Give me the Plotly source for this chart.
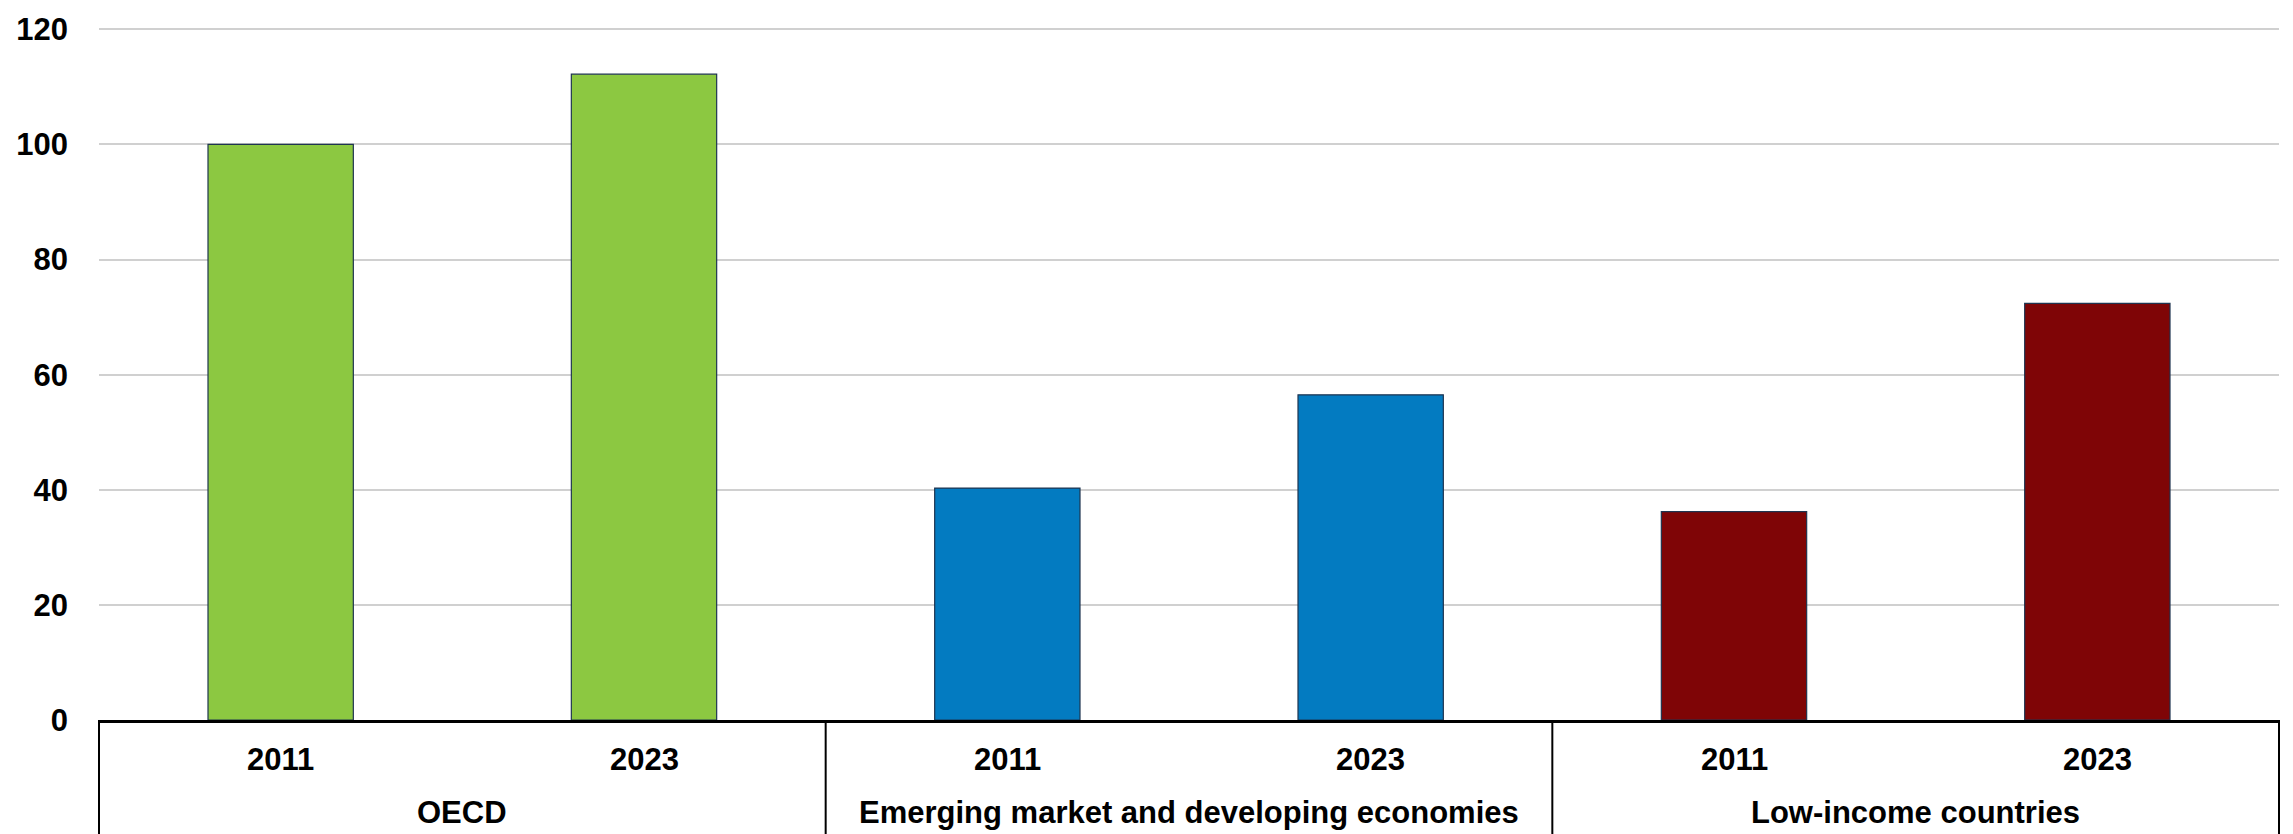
import plotly.graph_objects as go

groups = ["OECD", "Emerging market and developing economies", "Low-income countries"]
years = ["2011", "2023"]
values = [100.0, 112.2, 40.3, 56.5, 36.2, 72.4]
group_colors = ["#8CC841", "#037BC1", "#7F0506"]
y_ticks = [0, 20, 40, 60, 80, 100, 120]

FONT = "Liberation Sans Narrow, Arial Narrow, Liberation Sans, Arial, sans-serif"
FS = 31

x_pos = []
colors = []
labels = []
for gi, g in enumerate(groups):
    for yi, yr in enumerate(years):
        x_pos.append(gi * len(years) + yi)
        colors.append(group_colors[gi])
        labels.append(yr)

fig = go.Figure()
fig.add_trace(go.Bar(
    x=x_pos, y=values, width=0.4,
    marker=dict(color=colors, line=dict(color="#1F3550", width=1.2)),
    showlegend=False, hoverinfo="y",
))

annotations = []
for xp, lab in zip(x_pos, labels):
    annotations.append(dict(x=xp, y=0, xref="x", yref="y", yshift=-39, text=f"<b>{lab}</b>",
                            showarrow=False, font=dict(family=FONT, size=FS, color="black"),
                            xanchor="center", yanchor="middle"))
n = len(years)
shapes = []
for gi, g in enumerate(groups):
    center = gi * n + (n - 1) / 2
    annotations.append(dict(x=center, y=0, xref="x", yref="y", yshift=-92, text=f"<b>{g}</b>",
                            showarrow=False, font=dict(family=FONT, size=FS, color="black"),
                            xanchor="center", yanchor="middle"))
    if gi > 0:
        sep = gi * n - 0.5
        shapes.append(dict(type="line", xref="x", yref="paper", x0=sep, x1=sep, y0=0, y1=-0.3,
                           line=dict(color="black", width=2)))
for px in [0, 1]:
    shapes.append(dict(type="line", xref="paper", yref="paper", x0=px, x1=px, y0=0, y1=-0.3,
                       line=dict(color="black", width=2)))

fig.update_layout(
    width=2293, height=834,
    margin=dict(l=99, r=14, t=24, b=114),
    plot_bgcolor="white", paper_bgcolor="white",
    bargap=0.6,
    xaxis=dict(range=[-0.5, len(x_pos) - 0.5], showticklabels=False, showgrid=False,
               showline=True, linecolor="black", linewidth=3, zeroline=False, fixedrange=True),
    yaxis=dict(range=[0, 120.4], tickvals=y_ticks, ticktext=[f"<b>{t}</b>" for t in y_ticks],
               showgrid=True, gridcolor="#D0D0D0", gridwidth=2, zeroline=False, fixedrange=True,
               tickfont=dict(family=FONT, size=FS, color="black"), ticklabelstandoff=30),
    annotations=annotations,
    shapes=shapes,
)

fig.write_html("out.html", config={"displayModeBar": False},
               post_script="document.body.style.margin='0';document.body.style.overflow='hidden';")
